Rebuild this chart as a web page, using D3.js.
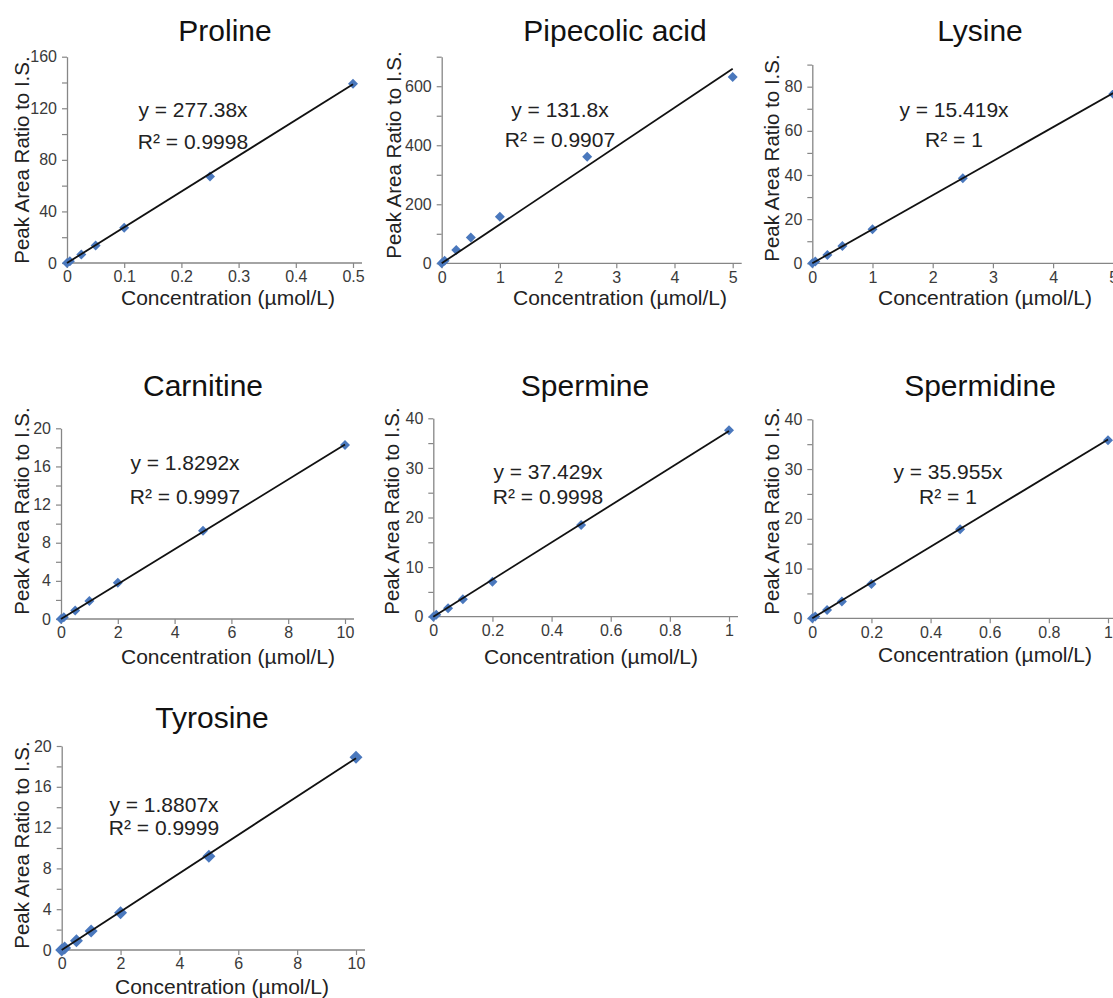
<!DOCTYPE html>
<html>
<head>
<meta charset="utf-8">
<script src="https://cdn.jsdelivr.net/npm/d3@7"></script>
<style>
  body { margin: 0; background: #fff; }
  text { font-family: "Liberation Sans", Arial, sans-serif; }
</style>
</head>
<body>
<div id="vis"></div>
<script>
// calibration curves, values
let names = ["Proline", "Pipecolic acid", "Lysine", "Carnitine", "Spermine", "Spermidine", "Tyrosine"];

let concProline = [0, 0.005, 0.025, 0.05, 0.1, 0.25, 0.5];
let ratioProline = [0, 1.4, 6.5, 13.6, 27.3, 67, 139];
let concPipecolic = [0, 0.05, 0.25, 0.5, 1, 2.5, 5];
let ratioPipecolic = [0, 9, 45, 87, 158, 361, 631];
let concLysine = [0, 0.05, 0.25, 0.5, 1, 2.5, 5];
let ratioLysine = [0, 0.8, 3.8, 7.8, 15.4, 38.5, 76.7];
let concCarnitine = [0, 0.1, 0.5, 1, 2, 5, 10];
let ratioCarnitine = [0, 0.18, 0.88, 1.89, 3.8, 9.25, 18.25];
let concSpermine = [0, 0.01, 0.05, 0.1, 0.2, 0.5, 1];
let ratioSpermine = [0, 0.38, 1.7, 3.5, 7.05, 18.5, 37.6];
let concSpermidine = [0, 0.01, 0.05, 0.1, 0.2, 0.5, 1];
let ratioSpermidine = [0, 0.36, 1.67, 3.4, 6.9, 17.9, 35.8];
let concTyrosine = [0, 0.1, 0.5, 1, 2, 5, 10];
let ratioTyrosine = [0, 0.19, 0.91, 1.86, 3.66, 9.2, 18.9];

let concs = [concProline, concPipecolic, concLysine, concCarnitine, concSpermine, concSpermidine, concTyrosine];
let ratios = [ratioProline, ratioPipecolic, ratioLysine, ratioCarnitine, ratioSpermine, ratioSpermidine, ratioTyrosine];

// trend line equations
let slopes = [277.38, 131.8, 15.419, 1.8292, 37.429, 35.955, 1.8807];
let r2 = ["0.9998", "0.9907", "1", "0.9997", "0.9998", "1", "0.9999"];

// axis ticks
let xTicks = [
  [0, 0.1, 0.2, 0.3, 0.4, 0.5],
  [0, 1, 2, 3, 4, 5],
  [0, 1, 2, 3, 4, 5],
  [0, 2, 4, 6, 8, 10],
  [0, 0.2, 0.4, 0.6, 0.8, 1],
  [0, 0.2, 0.4, 0.6, 0.8, 1],
  [0, 2, 4, 6, 8, 10]
];
let yMax = [160, 700, 90, 20, 40, 40, 20];
let yLabelStep = [40, 200, 20, 4, 10, 10, 4];
let yMinorStep = [20, 100, 10, 2, 5, 5, 2];

let xTitle = "Concentration (\u00b5mol/L)";
let yTitle = "Peak Area Ratio to I.S.";

// where each panel sits on the page (pixels)
let layout = [
  { x0: 67, x1: 353, y0: 263, y1: 56.7, tx: 225, ty: 30, ex: 193, ey1: 110, ey2: 142, ytx: 22, yty: 160, xtx: 228, xty: 298, m: 5 },
  { x0: 441.7, x1: 732.7, y0: 263.3, y1: 56.7, tx: 615, ty: 30, ex: 560, ey1: 110, ey2: 140, ytx: 394, yty: 155, xtx: 620, xty: 298, m: 5 },
  { x0: 812.3, x1: 1113.3, y0: 263.3, y1: 64.6, tx: 980, ty: 30, ex: 954, ey1: 110, ey2: 140, ytx: 772, yty: 158, xtx: 985, xty: 298, m: 5 },
  { x0: 61, x1: 345, y0: 619, y1: 428.3, tx: 203, ty: 385, ex: 185, ey1: 463, ey2: 497, ytx: 22, yty: 511, xtx: 228, xty: 657, m: 5 },
  { x0: 433.3, x1: 729, y0: 616.7, y1: 418.3, tx: 585, ty: 385, ex: 548, ey1: 472, ey2: 497, ytx: 392, yty: 511, xtx: 591, xty: 657, m: 5 },
  { x0: 812.3, x1: 1108, y0: 618.3, y1: 419.3, tx: 980, ty: 385, ex: 948, ey1: 472, ey2: 497, ytx: 772, yty: 511, xtx: 985, xty: 655, m: 5 },
  { x0: 61.7, x1: 356, y0: 950, y1: 746, tx: 212, ty: 717, ex: 164, ey1: 805, ey2: 828, ytx: 22, yty: 845, xtx: 222, xty: 987, m: 6.5 }
];

let axisColor = "#868686";
let labelColor = "#3a3a3a";
let markerColor = "#4a78bd";

let svg = d3.select("#vis")
  .append("svg")
  .attr("width", 1113)
  .attr("height", 998);

names.forEach(function (name, i) {
  let L = layout[i];
  let xt = xTicks[i];
  let xMax = xt[xt.length - 1];

  let x = d3.scaleLinear().domain([0, xMax]).range([L.x0, L.x1]);
  let y = d3.scaleLinear().domain([0, yMax[i]]).range([L.y0, L.y1]);

  let g = svg.append("g");

  // x axis
  let gx = g.append("g")
    .attr("transform", `translate(0, ${L.y0})`)
    .call(d3.axisBottom(x).tickValues(xt).tickSize(5).tickSizeOuter(0).tickPadding(3)
      .tickFormat(d => String(d)));
  gx.select(".domain").remove();
  gx.append("line")
    .attr("x1", L.x0).attr("x2", L.x1 + 9)
    .attr("stroke", axisColor).attr("stroke-width", 1.3);

  // y axis, ticks at minor step, labels at major step
  let yv = d3.range(0, yMax[i] + 1e-9, yMinorStep[i]);
  let gy = g.append("g")
    .attr("transform", `translate(${L.x0}, 0)`)
    .call(d3.axisLeft(y).tickValues(yv).tickSize(5).tickSizeOuter(0).tickPadding(5)
      .tickFormat(d => (Math.abs(d / yLabelStep[i] - Math.round(d / yLabelStep[i])) < 1e-6) ? String(d) : ""));
  gy.select(".domain")
    .attr("stroke", axisColor).attr("stroke-width", 1.3);

  g.selectAll(".tick line").attr("stroke", axisColor).attr("stroke-width", 1.2);
  g.selectAll(".tick text")
    .style("font-size", "16px")
    .style("font-family", "'Liberation Sans', Arial, sans-serif")
    .attr("fill", labelColor);

  // markers
  let pts = concs[i].map((c, k) => ({ c: c, r: ratios[i][k] }));
  g.append("g")
    .selectAll("path")
    .data(pts)
    .join("path")
    .attr("d", function (d) {
      let cx = x(d.c), cy = y(d.r), m = L.m;
      return `M${cx},${cy - m}L${cx + m},${cy}L${cx},${cy + m}L${cx - m},${cy}Z`;
    })
    .attr("fill", markerColor);

  // trend line through origin
  let xLast = d3.max(concs[i]);
  g.append("line")
    .attr("x1", x(0)).attr("y1", y(0))
    .attr("x2", x(xLast)).attr("y2", y(slopes[i] * xLast))
    .attr("stroke", "#111")
    .attr("stroke-width", 1.8);

  // title
  g.append("text")
    .attr("x", L.tx).attr("y", L.ty)
    .attr("dy", "0.35em")
    .attr("text-anchor", "middle")
    .style("font-size", "30px")
    .attr("fill", "#111")
    .text(name);

  // equation
  g.append("text")
    .attr("x", L.ex).attr("y", L.ey1)
    .attr("dy", "0.35em")
    .attr("text-anchor", "middle")
    .style("font-size", "21px")
    .attr("fill", "#222")
    .text("y = " + slopes[i] + "x");
  g.append("text")
    .attr("x", L.ex).attr("y", L.ey2)
    .attr("dy", "0.35em")
    .attr("text-anchor", "middle")
    .style("font-size", "21px")
    .attr("fill", "#222")
    .text("R\u00b2 = " + r2[i]);

  // axis titles
  g.append("text")
    .attr("transform", `translate(${L.ytx}, ${L.yty}) rotate(-90)`)
    .attr("dy", "0.35em")
    .attr("text-anchor", "middle")
    .style("font-size", "20.5px")
    .attr("fill", "#222")
    .text(yTitle);
  g.append("text")
    .attr("x", L.xtx).attr("y", L.xty)
    .attr("dy", "0.35em")
    .attr("text-anchor", "middle")
    .style("font-size", "21px")
    .attr("fill", "#222")
    .text(xTitle);
});
</script>
</body>
</html>
